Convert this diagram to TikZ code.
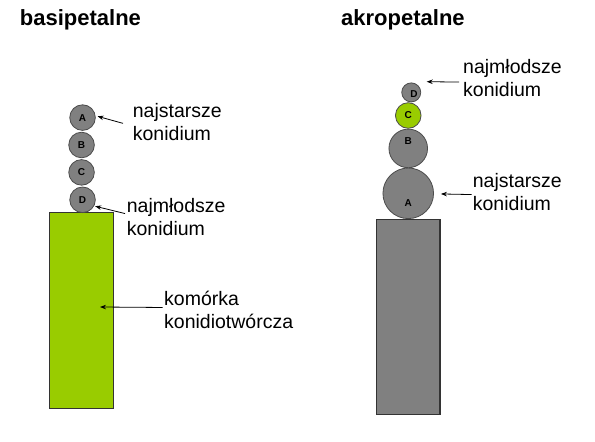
\documentclass[tikz,border=0pt]{standalone}
\usepackage{fontspec}
\setmainfont{Liberation Sans}
\usetikzlibrary{positioning}
\usetikzlibrary{arrows.meta}
\definecolor{conigreen}{RGB}{153,204,0}
\definecolor{conigray}{RGB}{128,128,128}

\begin{document}
\begin{tikzpicture}[x=1pt,y=-1pt,
		spore/.style={circle,draw=black!70,fill=conigray,line width=0.8pt,inner sep=0pt,font=\bfseries\fontsize{10}{10}\selectfont},
		tag/.style={inner sep=0pt,font=\bfseries\fontsize{10}{10}\selectfont},
		cell/.style={rectangle,draw=black!80,line width=1.1pt,inner sep=0pt,minimum width=63.4pt,anchor=north west},
		note/.style={align=left,inner sep=0pt,anchor=north west,font=\fontsize{19.5}{23}\selectfont},
		title/.style={inner sep=0pt,anchor=base west,font=\bfseries\fontsize{22}{22}\selectfont},
		pointer/.style={-{Stealth[length=6pt,width=4.5pt]},line width=0.8pt}]
		\useasboundingbox (0,0) rectangle (595,442);
		% basipetalne
		\node (basi) [title] at (19.7,25) {basipetalne};
		\node (stalkL) [cell,fill=conigreen,minimum height=196.3pt] at (49.3,212) {};
		\node (dL) [spore,minimum size=25.6pt,above=-1pt of stalkL,xshift=1pt] {D};
		\node (cL) [spore,minimum size=25.6pt,above=1pt of dL,xshift=-1pt] {C};
		\node (bL) [spore,minimum size=25.6pt,above=1pt of cL] {B};
		\node (aL) [spore,minimum size=25.6pt,above=1pt of bL,xshift=1pt] {A};
		\node (oldL) [note] at (132.7,103) {najstarsze\\konidium};
		\node (youngL) [note] at (126.7,197.7) {najmłodsze\\konidium};
		\node (mother) [note] at (164,291) {komórka\\konidiotwórcza};
		\coordinate (cellpt) at (100,307);
		\draw ([xshift=-9.7pt,yshift=-1.5pt]oldL.west) edge[pointer,shorten >=2pt] (aL.8);
		\draw ([xshift=-1.7pt,yshift=3pt]youngL.west) edge[pointer,shorten >=1pt] (dL.-28);
		\draw ([xshift=-1.3pt,yshift=2.5pt]mother.west) edge[pointer] (cellpt);
		% akropetalne
		\node (akro) [title] at (341,25) {akropetalne};
		\node (stalkR) [cell,fill=conigray,minimum height=195pt] at (376,219) {};
		\node (aR) [spore,minimum size=50.6pt,above=0pt of stalkR,label={[tag,yshift=-10pt]center:A}] {};
		\node (bR) [spore,minimum size=38.6pt,above=-0.5pt of aR,label={[tag,yshift=7.7pt]center:B}] {};
		\node (cR) [spore,fill=conigreen,minimum size=25.6pt,above=0pt of bR] {C};
		\node (dR) [spore,minimum size=19pt,above=0pt of cR,xshift=3pt,label={[tag,xshift=2.8pt,yshift=-1.8pt]center:D}] {};
		\node (youngR) [note] at (463,58.7) {najmłodsze\\konidium};
		\node (oldR) [note] at (472.7,172.7) {najstarsze\\konidium};
		\coordinate (sporept) at (426.7,81.7);
		\draw ([xshift=-4pt,yshift=-4.5pt]youngR.west) edge[pointer] (sporept);
		\draw ([xshift=-1pt,yshift=-3pt]oldR.west) edge[pointer,shorten >=7pt] (aR);
	\end{tikzpicture}
\end{document}
